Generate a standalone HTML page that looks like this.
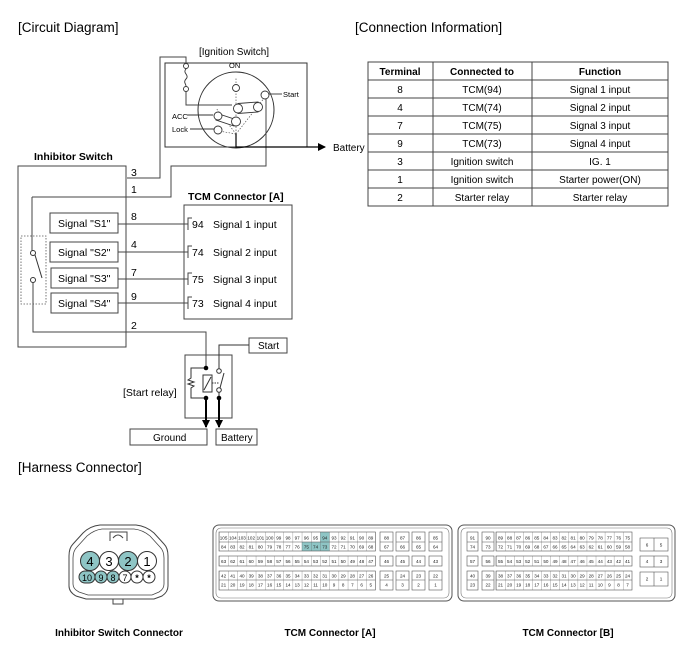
<!DOCTYPE html>
<html><head><meta charset="utf-8"><style>
html,body{margin:0;padding:0;background:#fff;}
svg{display:block;font-family:"Liberation Sans",Arial,sans-serif;}
</style></head><body>
<svg width="700" height="664" viewBox="0 0 700 664" xmlns="http://www.w3.org/2000/svg">
<defs>
<pattern id="pa" x="219" y="0" width="9.2" height="10" patternUnits="userSpaceOnUse"><line x1="0" y1="0" x2="0" y2="10" stroke="#666" stroke-width="0.6"/></pattern>
<pattern id="pb" x="496" y="0" width="9.07" height="10" patternUnits="userSpaceOnUse"><line x1="0" y1="0" x2="0" y2="10" stroke="#666" stroke-width="0.6"/></pattern>
<marker id="ar" markerWidth="8" markerHeight="8" refX="7" refY="4" orient="auto" markerUnits="userSpaceOnUse"><path d="M0,0 L8,4 L0,8 z" fill="#000"/></marker>
</defs>
<g fill="#000">
<text x="18" y="32" font-size="13.5">[Circuit Diagram]</text>
<text x="355" y="32" font-size="13.5">[Connection Information]</text>
<text x="18" y="472" font-size="13.5">[Harness Connector]</text>
</g>

<!-- Ignition switch -->
<text x="199" y="55" font-size="10">[Ignition Switch]</text>
<rect x="165" y="63" width="142" height="84" fill="none" stroke="#333" stroke-width="1"/>
<circle cx="236" cy="110" r="38" fill="none" stroke="#333" stroke-width="1"/>
<text x="229" y="68" font-size="7.5">ON</text>
<text x="283" y="97" font-size="7.5">Start</text>
<text x="172" y="119" font-size="7.5">ACC</text>
<text x="172" y="132" font-size="7.5">Lock</text>
<g fill="#fff" stroke="#333" stroke-width="0.9">
<circle cx="186" cy="66" r="2.5"/><circle cx="186" cy="89" r="2.5"/>
</g>
<path d="M186,69 c-4,4 4,6 0,10 c-3,3 0,5 0,7" fill="none" stroke="#333" stroke-width="0.9"/>
<path d="M127,178 H160 V57 H186 V64" fill="none" stroke="#444" stroke-width="1"/>
<path d="M186,92 V105 H232" fill="none" stroke="#444" stroke-width="1"/>
<path d="M32,197 H171 V166 H266 V98" fill="none" stroke="#444" stroke-width="1"/>
<g stroke="#555" stroke-width="0.7" stroke-dasharray="1.5,1.5" fill="none">
<line x1="236" y1="134" x2="236" y2="78"/>
<line x1="236" y1="134" x2="265" y2="97"/>
<line x1="236" y1="134" x2="219" y2="131"/>
<line x1="236" y1="134" x2="216" y2="108"/>
</g>
<g fill="#fff" stroke="#333" stroke-width="0.9">
<circle cx="236" cy="88" r="3.5"/>
<path d="M238,103.5 L258,102 L258,112 L238,113.5 z"/>
<circle cx="238" cy="108.5" r="4.5"/><circle cx="258" cy="107" r="4.5"/>
<path d="M216,113 L234,119 L234,126 L216,120 z"/>
<circle cx="218" cy="116" r="4"/><circle cx="236" cy="121.5" r="4.5"/>
<circle cx="218" cy="130" r="4"/>
<circle cx="265" cy="95" r="4"/>
</g>
<g stroke="#333" stroke-width="0.9"><line x1="269" y1="94" x2="282" y2="94"/><line x1="187" y1="115" x2="213" y2="115"/><line x1="190" y1="129" x2="214" y2="129"/></g>
<path d="M236,134 V147 H325" fill="none" stroke="#000" stroke-width="1.2" marker-end="url(#ar)"/>
<text x="333" y="151" font-size="10">Battery</text>

<!-- Inhibitor switch -->
<text x="34" y="160" font-size="10.5" font-weight="bold">Inhibitor Switch</text>
<rect x="18" y="166" width="108" height="181" fill="none" stroke="#444" stroke-width="1"/>
<g font-size="10.5"><text x="131" y="176">3</text><text x="131" y="193">1</text><text x="131" y="220">8</text><text x="131" y="248">4</text><text x="131" y="276">7</text><text x="131" y="300">9</text><text x="131" y="329">2</text></g>
<g fill="none" stroke="#444" stroke-width="1">
<rect x="50" y="213" width="68" height="20"/><rect x="50" y="242" width="68" height="20"/>
<rect x="51" y="268" width="67" height="20"/><rect x="51" y="293" width="67" height="20"/>
</g>
<g font-size="10.5"><text x="58" y="227">Signal "S1"</text><text x="58" y="256">Signal "S2"</text><text x="58" y="282">Signal "S3"</text><text x="58" y="307">Signal "S4"</text></g>
<g stroke="#444" stroke-width="1"><line x1="118" y1="224" x2="188" y2="224"/><line x1="118" y1="252" x2="188" y2="252"/><line x1="118" y1="279" x2="188" y2="279"/><line x1="118" y1="303" x2="188" y2="303"/></g>
<rect x="21" y="236" width="25" height="68" fill="none" stroke="#555" stroke-width="0.8" stroke-dasharray="1.5,1.5"/>
<circle cx="33" cy="253" r="2.5" fill="#fff" stroke="#333"/><circle cx="33" cy="280" r="2.5" fill="#fff" stroke="#333"/>
<line x1="35" y1="255" x2="42" y2="278" stroke="#333"/>
<path d="M32,197 V250.5" fill="none" stroke="#444"/>
<path d="M33,282.5 V332 H206 V368" fill="none" stroke="#444"/>

<!-- TCM box -->
<text x="188" y="200" font-size="10.5" font-weight="bold">TCM Connector [A]</text>
<rect x="184" y="205" width="108" height="114" fill="none" stroke="#444" stroke-width="1"/>
<g fill="none" stroke="#444"><path d="M192,218 H188 V230"/><path d="M192,246 H188 V258"/><path d="M192,273 H188 V285"/><path d="M192,297 H188 V309"/></g>
<g font-size="10.5"><text x="192" y="228">94</text><text x="213" y="228">Signal 1 input</text>
<text x="192" y="256">74</text><text x="213" y="256">Signal 2 input</text>
<text x="192" y="283">75</text><text x="213" y="283">Signal 3 input</text>
<text x="192" y="307">73</text><text x="213" y="307">Signal 4 input</text></g>

<!-- Relay -->
<rect x="185" y="355" width="47" height="63" fill="none" stroke="#444"/>
<rect x="249" y="338" width="38" height="15" fill="none" stroke="#444"/>
<text x="258" y="349" font-size="10">Start</text>
<path d="M249,345 H219 V369" fill="none" stroke="#333"/>
<text x="123" y="396" font-size="10.5">[Start relay]</text>
<path d="M206,368 H191 V378 l-3,2 l6,2 l-6,2 l6,2 l-3,2 V398 H206" fill="none" stroke="#333"/>
<rect x="203" y="375" width="9" height="17" fill="none" stroke="#333"/>
<line x1="204" y1="390" x2="211" y2="377" stroke="#333"/>
<line x1="212" y1="383" x2="219" y2="383" stroke="#333" stroke-dasharray="1.5,1"/>
<circle cx="219" cy="371" r="2.3" fill="#fff" stroke="#333"/><circle cx="219" cy="390" r="2.3" fill="#fff" stroke="#333"/>
<line x1="220" y1="388" x2="224" y2="373" stroke="#333"/>
<line x1="219" y1="392" x2="219" y2="398" stroke="#333"/>
<circle cx="206" cy="368" r="2.3"/><circle cx="206" cy="398" r="2.3"/><circle cx="219" cy="398" r="2.3"/>
<line x1="206" y1="398" x2="206" y2="427" stroke="#000" stroke-width="2" marker-end="url(#ar)"/>
<line x1="219" y1="398" x2="219" y2="427" stroke="#000" stroke-width="2" marker-end="url(#ar)"/>
<rect x="130" y="429" width="77" height="16" fill="none" stroke="#444"/>
<rect x="216" y="429" width="41" height="16" fill="none" stroke="#444"/>
<text x="153" y="441" font-size="10">Ground</text>
<text x="221" y="441" font-size="10">Battery</text>

<!-- Table -->
<g fill="none" stroke="#444" stroke-width="1">
<rect x="368" y="62" width="300" height="144"/>
<line x1="433" y1="62" x2="433" y2="206"/><line x1="532" y1="62" x2="532" y2="206"/>
<line x1="368" y1="80" x2="668" y2="80"/><line x1="368" y1="98" x2="668" y2="98"/><line x1="368" y1="116" x2="668" y2="116"/><line x1="368" y1="134" x2="668" y2="134"/><line x1="368" y1="152" x2="668" y2="152"/><line x1="368" y1="170" x2="668" y2="170"/><line x1="368" y1="188" x2="668" y2="188"/>
</g>
<g font-size="10" text-anchor="middle">
<g font-weight="bold"><text x="400" y="75">Terminal</text><text x="482" y="75">Connected to</text><text x="600" y="75">Function</text></g>
<text x="400" y="93">8</text><text x="482" y="93">TCM(94)</text><text x="600" y="93">Signal 1 input</text>
<text x="400" y="111">4</text><text x="482" y="111">TCM(74)</text><text x="600" y="111">Signal 2 input</text>
<text x="400" y="129">7</text><text x="482" y="129">TCM(75)</text><text x="600" y="129">Signal 3 input</text>
<text x="400" y="147">9</text><text x="482" y="147">TCM(73)</text><text x="600" y="147">Signal 4 input</text>
<text x="400" y="165">3</text><text x="482" y="165">Ignition switch</text><text x="600" y="165">IG. 1</text>
<text x="400" y="183">1</text><text x="482" y="183">Ignition switch</text><text x="600" y="183">Starter power(ON)</text>
<text x="400" y="201">2</text><text x="482" y="201">Starter relay</text><text x="600" y="201">Starter relay</text>
</g>

<!-- Inhibitor connector -->
<path d="M100,525 H136 Q146,526 154,533 L164,544 Q168,548 168,556 V586 Q168,592 162,596 L154,599 H86 L76,596 Q69,592 69,586 V556 Q69,548 73,544 L83,533 Q90,526 100,525 Z" fill="none" stroke="#444" stroke-width="1"/>
<path d="M102,529 H134 Q143,530 150,536 L160,547 Q164,551 164,558 V584 Q164,589 159,592 L152,595 H88 L79,592 Q73,589 73,584 V558 Q73,551 77,547 L87,536 Q94,530 102,529 Z" fill="none" stroke="#444" stroke-width="0.8"/>
<path d="M110,541 V532 H127 V541 M113,538 q5,-6 10,0" fill="none" stroke="#444"/>
<path d="M113,599 v5 h10 v-5" fill="none" stroke="#444"/>
<g stroke="#333" stroke-width="1">
<circle cx="90" cy="561" r="9.5" fill="#8ec5c5"/><circle cx="109" cy="561" r="9.5" fill="#fff"/>
<circle cx="128" cy="561" r="9.5" fill="#8ec5c5"/><circle cx="147" cy="561" r="9.5" fill="#fff"/>
<rect x="79" y="571" width="16" height="12" rx="6" fill="#8ec5c5"/>
<circle cx="101" cy="577" r="6" fill="#8ec5c5"/><circle cx="113" cy="577" r="6" fill="#8ec5c5"/>
<circle cx="125" cy="577" r="6" fill="#fff"/><circle cx="137" cy="577" r="6" fill="#fff"/><circle cx="149" cy="577" r="6" fill="#fff"/>
</g>
<g font-size="13" text-anchor="middle"><text x="90" y="566">4</text><text x="109" y="566">3</text><text x="128" y="566">2</text><text x="147" y="566">1</text></g>
<g font-size="9" text-anchor="middle"><text x="87" y="581">10</text><text x="101" y="581">9</text><text x="113" y="581">8</text><text x="125" y="581">7</text><text x="137" y="581" font-weight="bold">*</text><text x="149" y="581" font-weight="bold">*</text></g>

<!-- TCM A -->
<rect x="213" y="525" width="239" height="76" rx="6" fill="none" stroke="#555"/>
<rect x="216" y="528" width="233" height="70" rx="5" fill="none" stroke="#777" stroke-width="0.6"/>
<rect x="320.2" y="532" width="9.2" height="10" fill="#8ec5c5"/>
<rect x="301.8" y="542" width="27.6" height="9" fill="#8ec5c5"/>
<g fill="url(#pa)" stroke="#555" stroke-width="0.6">
<rect x="219" y="532" width="156.4" height="19"/><rect x="219" y="556" width="156.4" height="10"/><rect x="219" y="571" width="156.4" height="19"/>
</g>
<g fill="none" stroke="#555" stroke-width="0.6">
<line x1="219" y1="542" x2="375.4" y2="542"/><line x1="219" y1="580" x2="375.4" y2="580"/>
<rect x="380" y="532" width="13" height="19"/><rect x="396" y="532" width="13" height="19"/><rect x="412" y="532" width="13" height="19"/><rect x="429" y="532" width="13" height="19"/>
<rect x="380" y="556" width="13" height="10"/><rect x="396" y="556" width="13" height="10"/><rect x="412" y="556" width="13" height="10"/><rect x="429" y="556" width="13" height="10"/>
<rect x="380" y="571" width="13" height="19"/><rect x="396" y="571" width="13" height="19"/><rect x="412" y="571" width="13" height="19"/><rect x="429" y="571" width="13" height="19"/>
<path d="M380,542h13M396,542h13M412,542h13M429,542h13M380,580h13M396,580h13M412,580h13M429,580h13"/>
</g>
<g font-size="4.6" text-anchor="middle" fill="#222">
<text y="539.5"><tspan x="223.6">105</tspan><tspan x="232.8">104</tspan><tspan x="242">103</tspan><tspan x="251.2">102</tspan><tspan x="260.4">101</tspan><tspan x="269.6">100</tspan><tspan x="278.8">99</tspan><tspan x="288">98</tspan><tspan x="297.2">97</tspan><tspan x="306.4">96</tspan><tspan x="315.6">95</tspan><tspan x="324.8">94</tspan><tspan x="334">93</tspan><tspan x="343.2">92</tspan><tspan x="352.4">91</tspan><tspan x="361.6">90</tspan><tspan x="370.8">89</tspan><tspan x="386.5">88</tspan><tspan x="402.5">87</tspan><tspan x="418.5">86</tspan><tspan x="435.5">85</tspan></text>
<text y="548.5"><tspan x="223.6">84</tspan><tspan x="232.8">83</tspan><tspan x="242">82</tspan><tspan x="251.2">81</tspan><tspan x="260.4">80</tspan><tspan x="269.6">79</tspan><tspan x="278.8">78</tspan><tspan x="288">77</tspan><tspan x="297.2">76</tspan><tspan x="306.4">75</tspan><tspan x="315.6">74</tspan><tspan x="324.8">73</tspan><tspan x="334">72</tspan><tspan x="343.2">71</tspan><tspan x="352.4">70</tspan><tspan x="361.6">69</tspan><tspan x="370.8">68</tspan><tspan x="386.5">67</tspan><tspan x="402.5">66</tspan><tspan x="418.5">65</tspan><tspan x="435.5">64</tspan></text>
<text y="563"><tspan x="223.6">63</tspan><tspan x="232.8">62</tspan><tspan x="242">61</tspan><tspan x="251.2">60</tspan><tspan x="260.4">59</tspan><tspan x="269.6">58</tspan><tspan x="278.8">57</tspan><tspan x="288">56</tspan><tspan x="297.2">55</tspan><tspan x="306.4">54</tspan><tspan x="315.6">53</tspan><tspan x="324.8">52</tspan><tspan x="334">51</tspan><tspan x="343.2">50</tspan><tspan x="352.4">49</tspan><tspan x="361.6">48</tspan><tspan x="370.8">47</tspan><tspan x="386.5">46</tspan><tspan x="402.5">45</tspan><tspan x="418.5">44</tspan><tspan x="435.5">43</tspan></text>
<text y="577.5"><tspan x="223.6">42</tspan><tspan x="232.8">41</tspan><tspan x="242">40</tspan><tspan x="251.2">39</tspan><tspan x="260.4">38</tspan><tspan x="269.6">37</tspan><tspan x="278.8">36</tspan><tspan x="288">35</tspan><tspan x="297.2">34</tspan><tspan x="306.4">33</tspan><tspan x="315.6">32</tspan><tspan x="324.8">31</tspan><tspan x="334">30</tspan><tspan x="343.2">29</tspan><tspan x="352.4">28</tspan><tspan x="361.6">27</tspan><tspan x="370.8">26</tspan><tspan x="386.5">25</tspan><tspan x="402.5">24</tspan><tspan x="418.5">23</tspan><tspan x="435.5">22</tspan></text>
<text y="586.5"><tspan x="223.6">21</tspan><tspan x="232.8">20</tspan><tspan x="242">19</tspan><tspan x="251.2">18</tspan><tspan x="260.4">17</tspan><tspan x="269.6">16</tspan><tspan x="278.8">15</tspan><tspan x="288">14</tspan><tspan x="297.2">13</tspan><tspan x="306.4">12</tspan><tspan x="315.6">11</tspan><tspan x="324.8">10</tspan><tspan x="334">9</tspan><tspan x="343.2">8</tspan><tspan x="352.4">7</tspan><tspan x="361.6">6</tspan><tspan x="370.8">5</tspan><tspan x="386.5">4</tspan><tspan x="402.5">3</tspan><tspan x="418.5">2</tspan><tspan x="435.5">1</tspan></text>
</g>

<!-- TCM B -->
<rect x="458" y="525" width="217" height="76" rx="6" fill="none" stroke="#555"/>
<rect x="461" y="528" width="211" height="70" rx="5" fill="none" stroke="#777" stroke-width="0.6"/>
<g fill="url(#pb)" stroke="#555" stroke-width="0.6">
<rect x="496" y="532" width="136" height="19"/><rect x="496" y="556" width="136" height="10"/><rect x="496" y="571" width="136" height="19"/>
</g>
<g fill="none" stroke="#555" stroke-width="0.6">
<line x1="496" y1="542" x2="632" y2="542"/><line x1="496" y1="580" x2="632" y2="580"/>
<rect x="467" y="532" width="11" height="19"/><rect x="482" y="532" width="12" height="19"/>
<rect x="467" y="556" width="11" height="10"/><rect x="482" y="556" width="12" height="10"/>
<rect x="467" y="571" width="11" height="19"/><rect x="482" y="571" width="12" height="19"/>
<path d="M467,542h11M482,542h12M467,580h11M482,580h12"/>
<rect x="640" y="538" width="28" height="13"/><rect x="640" y="556" width="28" height="11"/><rect x="640" y="572" width="28" height="14"/>
<path d="M654,538v13M654,556v11M654,572v14"/>
</g>
<g font-size="4.6" text-anchor="middle" fill="#222">
<text y="539.5"><tspan x="472.5">91</tspan><tspan x="488">90</tspan><tspan x="500.5">89</tspan><tspan x="509.6">88</tspan><tspan x="518.7">87</tspan><tspan x="527.7">86</tspan><tspan x="536.8">85</tspan><tspan x="545.9">84</tspan><tspan x="555">83</tspan><tspan x="564">82</tspan><tspan x="573.1">81</tspan><tspan x="582.2">80</tspan><tspan x="591.2">79</tspan><tspan x="600.3">78</tspan><tspan x="609.4">77</tspan><tspan x="618.5">76</tspan><tspan x="627.5">75</tspan></text>
<text y="548.5"><tspan x="472.5">74</tspan><tspan x="488">73</tspan><tspan x="500.5">72</tspan><tspan x="509.6">71</tspan><tspan x="518.7">70</tspan><tspan x="527.7">69</tspan><tspan x="536.8">68</tspan><tspan x="545.9">67</tspan><tspan x="555">66</tspan><tspan x="564">65</tspan><tspan x="573.1">64</tspan><tspan x="582.2">63</tspan><tspan x="591.2">62</tspan><tspan x="600.3">61</tspan><tspan x="609.4">60</tspan><tspan x="618.5">59</tspan><tspan x="627.5">58</tspan></text>
<text y="563"><tspan x="472.5">57</tspan><tspan x="488">56</tspan><tspan x="500.5">55</tspan><tspan x="509.6">54</tspan><tspan x="518.7">53</tspan><tspan x="527.7">52</tspan><tspan x="536.8">51</tspan><tspan x="545.9">50</tspan><tspan x="555">49</tspan><tspan x="564">48</tspan><tspan x="573.1">47</tspan><tspan x="582.2">46</tspan><tspan x="591.2">45</tspan><tspan x="600.3">44</tspan><tspan x="609.4">43</tspan><tspan x="618.5">42</tspan><tspan x="627.5">41</tspan></text>
<text y="577.5"><tspan x="472.5">40</tspan><tspan x="488">39</tspan><tspan x="500.5">38</tspan><tspan x="509.6">37</tspan><tspan x="518.7">36</tspan><tspan x="527.7">35</tspan><tspan x="536.8">34</tspan><tspan x="545.9">33</tspan><tspan x="555">32</tspan><tspan x="564">31</tspan><tspan x="573.1">30</tspan><tspan x="582.2">29</tspan><tspan x="591.2">28</tspan><tspan x="600.3">27</tspan><tspan x="609.4">26</tspan><tspan x="618.5">25</tspan><tspan x="627.5">24</tspan></text>
<text y="586.5"><tspan x="472.5">23</tspan><tspan x="488">22</tspan><tspan x="500.5">21</tspan><tspan x="509.6">20</tspan><tspan x="518.7">19</tspan><tspan x="527.7">18</tspan><tspan x="536.8">17</tspan><tspan x="545.9">16</tspan><tspan x="555">15</tspan><tspan x="564">14</tspan><tspan x="573.1">13</tspan><tspan x="582.2">12</tspan><tspan x="591.2">11</tspan><tspan x="600.3">10</tspan><tspan x="609.4">9</tspan><tspan x="618.5">8</tspan><tspan x="627.5">7</tspan></text>
<text y="546.5"><tspan x="647">6</tspan><tspan x="661">5</tspan></text>
<text y="563"><tspan x="647">4</tspan><tspan x="661">3</tspan></text>
<text y="580.5"><tspan x="647">2</tspan><tspan x="661">1</tspan></text>
</g>

<g font-size="10" font-weight="bold" text-anchor="middle">
<text x="119" y="636">Inhibitor Switch Connector</text>
<text x="330" y="636">TCM Connector [A]</text>
<text x="568" y="636">TCM Connector [B]</text>
</g>
</svg>
</body></html>
